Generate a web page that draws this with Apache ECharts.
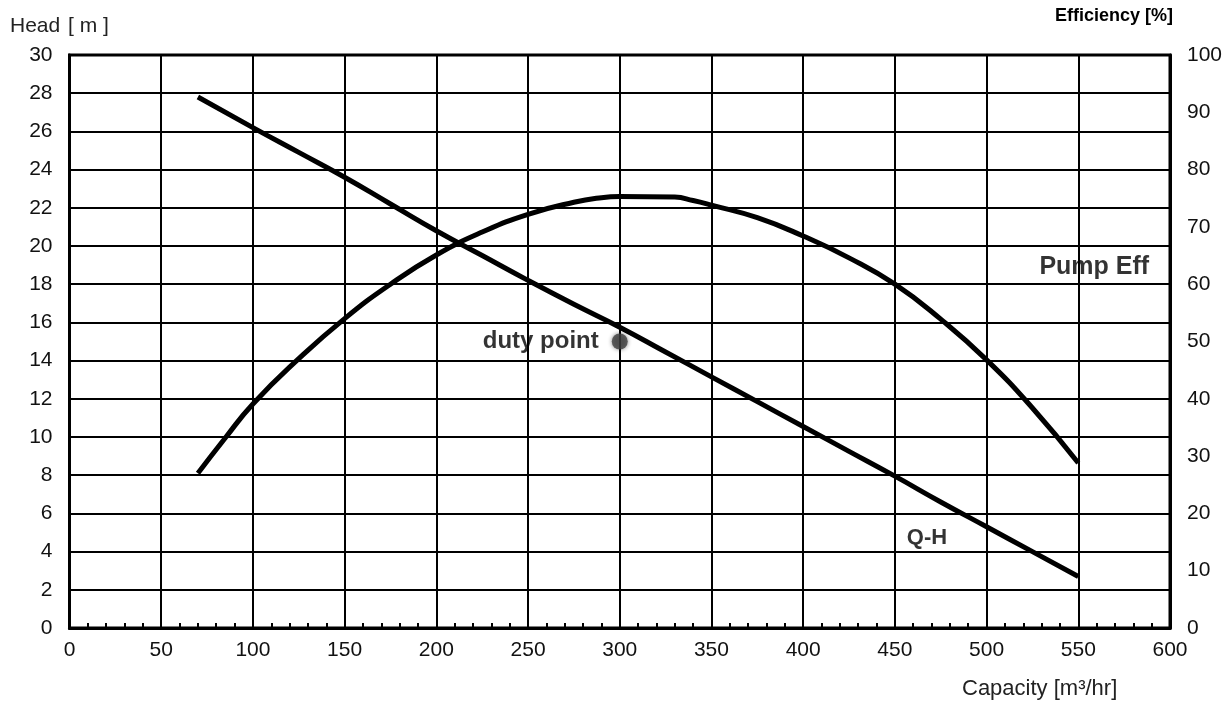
<!DOCTYPE html>
<html><head><meta charset="utf-8">
<script src="https://cdn.jsdelivr.net/npm/echarts@6/dist/echarts.min.js"></script>
<style>html,body{margin:0;padding:0;background:#fff}#c{width:1229px;height:704px}</style>
</head><body><div id="c"></div>
<script>
const qhCapacity = [70,100,125,150,175,200,225,250,275,300,325,350,375,400,425,450,475,500,525,550];
const qhHead     = [27.8,26.2,24.9,23.6,22.2,20.8,19.5,18.2,16.95,15.75,14.45,13.15,11.85,10.55,9.25,7.95,6.6,5.3,4.0,2.7];
const effCapacity = [70,85,100,125,150,175,200,225,250,275,290,300,330,340,350,375,400,425,450,475,500,525,550];
const effValue    = [27,33.2,39.1,47.0,54,60.0,65.1,69.1,72.2,74.3,75.1,75.3,75.2,74.6,73.8,71.6,68.4,64.6,60.0,53.9,46.8,38.4,28.8];
const dutyPoint = [300, 15];
const xTicks = [0,50,100,150,200,250,300,350,400,450,500,550,600];
const headTicks = [0,2,4,6,8,10,12,14,16,18,20,22,24,26,28,30];
const effTicks = [0,10,20,30,40,50,60,70,80,90,100];

const chart = echarts.init(document.getElementById('c'));
const font = '"Liberation Sans", Arial, sans-serif';
const lbl = {color:'#111', fontSize:21, fontFamily:font};
chart.setOption({
  animation:false,
  grid:{left:69.5,right:59,top:55,bottom:76,show:true,borderColor:'#000',borderWidth:3,backgroundColor:'transparent'},
  xAxis:{type:'value',min:xTicks[0],max:xTicks[xTicks.length-1],interval:50,
    axisLine:{show:true,onZero:false,lineStyle:{color:'#000',width:3}},
    axisTick:{show:false,inside:true},
    minorTick:{show:true,splitNumber:5,length:5,lineStyle:{color:'#000',width:2}},
    axisLabel:Object.assign({margin:12},lbl),
    splitLine:{show:true,lineStyle:{color:'#000',width:2}}},
  yAxis:[
    {type:'value',min:headTicks[0],max:headTicks[headTicks.length-1],interval:2,position:'left',
     axisLine:{show:true,lineStyle:{color:'#000',width:3}},axisTick:{show:false},
     axisLabel:Object.assign({margin:17},lbl),
     splitLine:{show:true,lineStyle:{color:'#000',width:2}}},
    {type:'value',min:effTicks[0],max:effTicks[effTicks.length-1],interval:10,position:'right',
     axisLine:{show:true,lineStyle:{color:'#000',width:3}},axisTick:{show:false},
     axisLabel:Object.assign({margin:17},lbl),
     splitLine:{show:false}}
  ],
  series:[
    {type:'line',name:'Q-H',yAxisIndex:0,data:qhCapacity.map((x,i)=>[x,qhHead[i]]),
     showSymbol:false,smooth:0.5,lineStyle:{color:'#000',width:5}},
    {type:'line',name:'Pump Eff',yAxisIndex:1,data:effCapacity.map((x,i)=>[x,effValue[i]]),
     showSymbol:false,smooth:0.5,lineStyle:{color:'#000',width:5}},
    {type:'scatter',yAxisIndex:0,data:[dutyPoint],symbolSize:16,
     itemStyle:{color:'#404040',shadowBlur:4,shadowColor:'rgba(0,0,0,0.6)'},
     label:{show:true,position:'left',distance:13,formatter:'duty point',color:'#000',fontWeight:'bold',
       fontSize:24,fontFamily:font}},
    {type:'scatter',yAxisIndex:0,symbolSize:0,silent:true,
     data:[{value:[558.7,18.9],label:{formatter:'Pump Eff',fontSize:25}},
           {value:[467.5,4.7],label:{formatter:'Q-H',fontSize:22}}],
     label:{show:true,position:'inside',color:'#000',fontWeight:'bold',fontFamily:font}}
  ],
  graphic:[
    {type:'text',left:10,top:16,style:{text:'Head',fill:'#222',fontSize:21,fontFamily:font}},
    {type:'text',left:68,top:16,style:{text:'[ m ]',fill:'#222',fontSize:21,fontFamily:font}},
    {type:'text',right:56,top:7,style:{text:'Efficiency [%]',fill:'#000',fontSize:18,fontWeight:'bold',fontFamily:font}},
    {type:'text',left:962,top:678,style:{text:'Capacity [m³/hr]',fill:'#222',fontSize:22,fontFamily:font}}
  ]
});
</script></body></html>
